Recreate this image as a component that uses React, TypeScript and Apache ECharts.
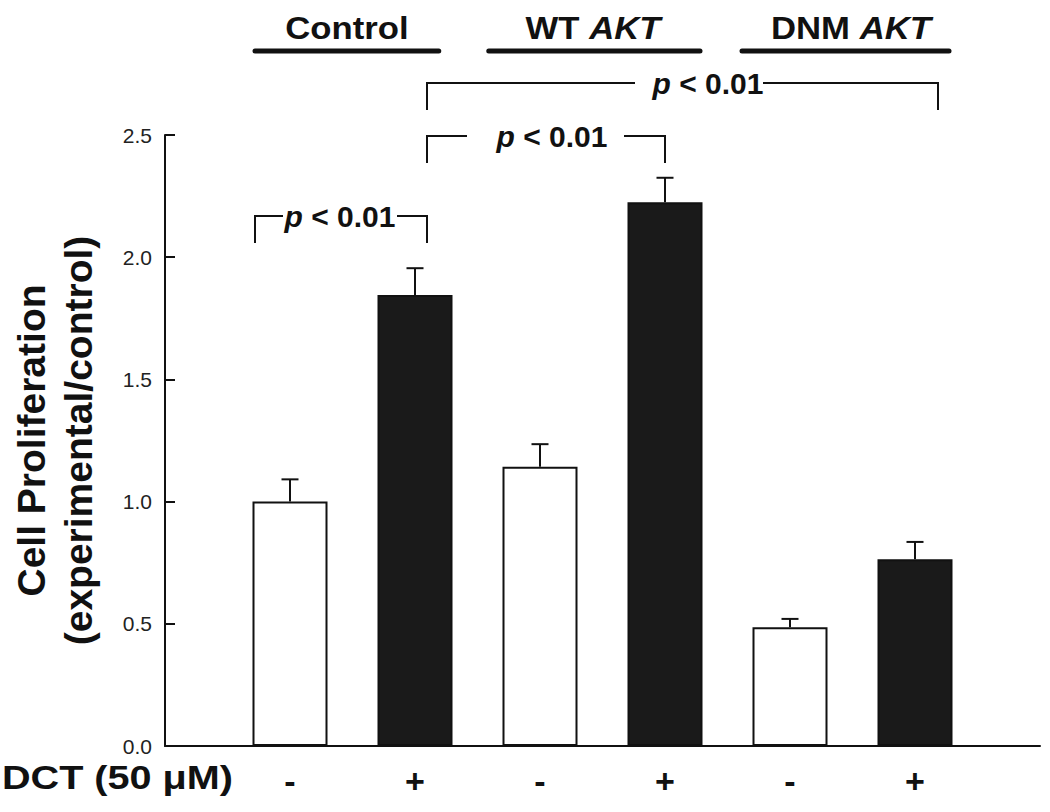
import React, { useEffect, useRef } from 'react';
import * as echarts from 'echarts';

// ---------- data ----------
const positions = [1, 2, 3, 4, 5, 6];
const dctLabels = ['-', '+', '-', '+', '-', '+'];
const means = [1.0, 1.845, 1.143, 2.225, 0.486, 0.764];
const sems = [0.091, 0.11, 0.092, 0.1, 0.034, 0.071];
const tickLabels = ['', '-', '+', '-', '+', '-', '+', ''];

const groupPlain = ['Control', 'WT ', 'DNM '];
const groupItalic = ['', 'AKT', 'AKT'];
const groupLineStart = [0.72, 2.59, 4.616];
const groupLineEnd = [2.19, 4.28, 6.272];
const groupTextX = [1.456, 3.424, 5.488];
const groupLineY = 2.844;
const groupTextY = 2.938;

const bracketLeft = [0.72, 2.096, 2.096];
const bracketRight = [2.096, 4.0, 6.184];
const bracketTop = [2.169, 2.496, 2.713];
const bracketLegBottom = [2.058, 2.385, 2.602];
const bracketTextX = [1.4, 3.096, 4.344];
const bracketGapStart = [0.944, 2.416, 3.76];
const bracketGapEnd = [1.856, 3.672, 4.784];
const bracketLabel = 'p < 0.01';

const FONT = '"Liberation Sans", Arial, Helvetica, sans-serif';
const INK = '#111';

export default function App() {
  const ref = useRef<HTMLDivElement>(null);

  useEffect(() => {
    if (!ref.current) return;
    const chart = echarts.init(ref.current, null, { renderer: 'svg' });

    const barData = positions.map((p, i) => ({
      value: [p, means[i]],
      itemStyle: {
        color: dctLabels[i] === '+' ? '#1a1a1a' : '#ffffff',
        borderColor: INK,
        borderWidth: 2,
      },
    }));

    chart.setOption({
      animation: false,
      backgroundColor: '#fff',
      grid: { left: 165, right: 10, top: 135, bottom: 66, containLabel: false },
      xAxis: {
        type: 'value',
        min: 0,
        max: 7,
        interval: 1,
        axisLine: { show: true, lineStyle: { color: INK, width: 2 } },
        axisTick: { show: false },
        splitLine: { show: false },
        axisLabel: {
          formatter: (v: number) => tickLabels[Math.round(v)] ?? '',
          fontSize: 34,
          fontWeight: 'bold',
          fontFamily: FONT,
          color: INK,
          margin: 18,
        },
      },
      yAxis: {
        type: 'value',
        min: 0,
        max: 2.5,
        interval: 0.5,
        axisLine: { show: true, lineStyle: { color: INK, width: 2 } },
        axisTick: { show: true, inside: true, length: 10, lineStyle: { color: INK, width: 2 } },
        splitLine: { show: false },
        axisLabel: {
          formatter: (v: number) => v.toFixed(1),
          fontSize: 21,
          fontFamily: FONT,
          color: '#222',
          margin: 13,
        },
        name: 'Cell Proliferation\n(experimental/control)',
        nameLocation: 'middle',
        nameGap: 63,
        nameTextStyle: {
          fontSize: 39,
          fontWeight: 'bold',
          fontFamily: FONT,
          color: INK,
          lineHeight: 47,
        },
      },
      series: [
        {
          type: 'bar',
          data: barData,
          barWidth: 75,
          z: 2,
        },
        {
          type: 'custom',
          data: positions.map((p, i) => [p, means[i], means[i] + sems[i]]),
          encode: { x: 0, y: 2 },
          z: 3,
          renderItem: (_params: any, api: any) => {
            const x = api.value(0);
            const p0 = api.coord([x, api.value(1)]);
            const p1 = api.coord([x, api.value(2)]);
            const half = 8.5;
            return {
              type: 'group',
              children: [
                {
                  type: 'line',
                  shape: { x1: p0[0], y1: p0[1], x2: p1[0], y2: p1[1] },
                  style: { stroke: INK, lineWidth: 2 },
                },
                {
                  type: 'line',
                  shape: { x1: p1[0] - half, y1: p1[1], x2: p1[0] + half, y2: p1[1] },
                  style: { stroke: INK, lineWidth: 2 },
                },
              ],
            };
          },
        },
      ],
    });

    const px = (x: number, y: number) =>
      chart.convertToPixel({ gridIndex: 0 }, [x, y]) as number[];

    const graphics: any[] = [];

    // group headers
    groupPlain.forEach((plain, i) => {
      const a = px(groupLineStart[i], groupLineY);
      const b = px(groupLineEnd[i], groupLineY);
      graphics.push({
        type: 'line',
        shape: { x1: a[0], y1: a[1], x2: b[0], y2: b[1] },
        style: { stroke: INK, lineWidth: 5, lineCap: 'round' },
      });
      const t = px(groupTextX[i], groupTextY);
      const txt = groupItalic[i] ? `{n|${plain}}{i|${groupItalic[i]}}` : `{n|${plain}}`;
      graphics.push({
        type: 'text',
        x: t[0],
        y: t[1],
        scaleX: 1.12,
        style: {
          text: txt,
          align: 'center',
          verticalAlign: 'middle',
          fill: INK,
          rich: {
            n: { fontSize: 31, fontWeight: 'bold', fontFamily: FONT, fill: INK },
            i: { fontSize: 31, fontWeight: 'bold', fontStyle: 'italic', fontFamily: FONT, fill: INK },
          },
        },
      });
    });

    // significance brackets
    bracketLeft.forEach((l, i) => {
      const r = bracketRight[i];
      const top = bracketTop[i];
      const bot = bracketLegBottom[i];
      const pts = [
        [px(l, bot), px(l, top), px(bracketGapStart[i], top)],
        [px(bracketGapEnd[i], top), px(r, top), px(r, bot)],
      ];
      pts.forEach((ps) => {
        graphics.push({
          type: 'polyline',
          shape: { points: ps },
          style: { stroke: INK, lineWidth: 2, fill: 'none' },
        });
      });
      const t = px(bracketTextX[i], top);
      graphics.push({
        type: 'text',
        x: t[0],
        y: t[1] + 1,
        style: {
          text: `{p|p}{n| ${bracketLabel.slice(2)}}`,
          align: 'center',
          verticalAlign: 'middle',
          fill: INK,
          rich: {
            p: { fontSize: 30, fontWeight: 'bold', fontStyle: 'italic', fontFamily: FONT, fill: INK },
            n: { fontSize: 30, fontWeight: 'bold', fontFamily: FONT, fill: INK },
          },
        },
      });
    });

    // treatment row label
    const dctY = px(0, 0)[1] + 32;
    graphics.push({
      type: 'text',
      x: 2,
      y: dctY,
      scaleX: 1.2,
      style: {
        text: 'DCT (50 μM)',
        align: 'left',
        verticalAlign: 'middle',
        fontSize: 33,
        fontWeight: 'bold',
        fontFamily: FONT,
        fill: INK,
      },
    });

    chart.setOption({ graphic: graphics });

    return () => chart.dispose();
  }, []);

  return (
    <div
      ref={ref}
      style={{ position: 'fixed', left: 0, top: 0, width: 1050, height: 812, background: '#fff' }}
    />
  );
}
